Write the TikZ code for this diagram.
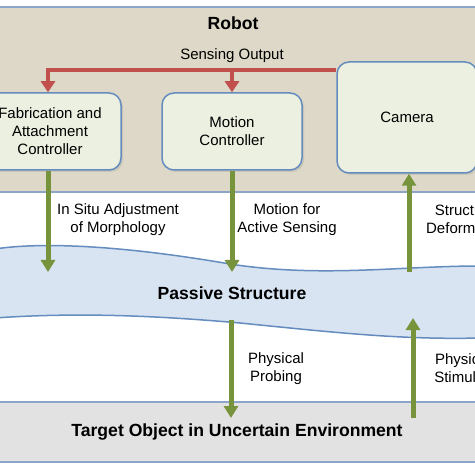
\documentclass[tikz,border=0pt]{standalone}
\usepackage{fontspec}
\setmainfont{Liberation Sans}
\usetikzlibrary{arrows.meta,shadows}
\definecolor{robotfill}{RGB}{221,216,199}
\definecolor{panelline}{RGB}{140,165,200}
\definecolor{boxfill}{RGB}{236,240,224}
\definecolor{boxline}{RGB}{100,140,190}
\definecolor{sensered}{RGB}{192,80,77}
\definecolor{actgreen}{RGB}{119,147,60}
\definecolor{passfill}{RGB}{216,228,242}
\definecolor{targetfill}{RGB}{226,226,226}
\begin{document}
\begin{tikzpicture}[x=0.5pt,y=-0.5pt]
\newcommand{\labelsize}{\fontsize{7.5}{9}\selectfont}
\newcommand{\titlesize}{\fontsize{8.8}{10}\selectfont\bfseries}
\tikzset{block/.style={draw=boxline, line width=0.75pt, fill=boxfill, rounded corners=6pt, align=center, font=\labelsize, inner sep=0pt, drop shadow={opacity=0.2, shadow xshift=1pt, shadow yshift=-1pt}},
  sensearrow/.style={draw=sensered, line width=2pt, -{Triangle[width=7pt,length=5.5pt]}},
  actarrow/.style={draw=actgreen, line width=2.5pt, -{Triangle[width=7pt,length=6pt]}},
  lbl/.style={align=center, font=\labelsize, inner sep=0pt},
  title/.style={font=\titlesize, inner sep=0pt}}
\useasboundingbox (0,0) rectangle (474,474);

    % robot panel
    \draw[draw=panelline, line width=0.75pt, fill=robotfill] (-5,7) rectangle (480,192);
    \node[title] (robot) at (233,23) {Robot};
    \node[lbl] (senselbl) at (232,56) {Sensing Output};

    \node[block, minimum width=71pt, minimum height=38.5pt] (fab) at (50,131.5) {Fabrication and\\Attachment\\Controller};
    \node[block, minimum width=70pt, minimum height=38.5pt] (motion) at (232,131.5) {Motion\\Controller};
    \node[block, minimum width=70pt, minimum height=55.5pt] (camera) at (407,117.5) {Camera};

    % passive structure
    \draw[draw=boxline, line width=0.75pt, fill=passfill] (-5,249) .. controls (40,242) and (120,245) .. (230,264) .. controls (320,278) and (400,266) .. (480,266)
      -- (480,338) .. controls (400,340) and (330,332) .. (240,323) .. controls (160,316) and (80,312) .. (-5,318) -- cycle;
    \node[title] (passive) at (232,293) {Passive Structure};

    % target
    \node[draw=panelline, line width=0.75pt, fill=targetfill, minimum width=245pt, minimum height=30pt, inner sep=0pt, font=\titlesize] (target) at (237,432) {Target Object in Uncertain Environment};

    % sensing output
    \coordinate (split) at (48,70);
    \draw[sensearrow] (camera.west |- split) -| (fab.north -| split);
    \draw[sensearrow] (motion.north |- split) -- (motion.north);

    % actuation and sensing
    \coordinate (adjusttip) at (48,272);
    \coordinate (motiontip) at (232,272);
    \coordinate (deformbase) at (409,272);
    \coordinate (probebase) at (231,320);
    \coordinate (probetip) at (231,418);
    \coordinate (stimbase) at (413,418);
    \coordinate (stimtip) at (413,318);
    \draw[actarrow] (fab.south -| adjusttip) -- (adjusttip);
    \draw[actarrow] (motion.south) -- (motiontip);
    \draw[actarrow] (deformbase) -- (camera.south -| deformbase);
    \draw[actarrow] (probebase) -- (probetip);
    \draw[actarrow] (stimbase) -- (stimtip);

    \node[lbl] (adjustlbl) at (118,219.5) {In Situ Adjustment\\of Morphology};
    \node[lbl] (activelbl) at (287,219.5) {Motion for\\Active Sensing};
    \node[lbl] (deformlbl) at (467,219.5) {Structural\\Deformation};
    \node[lbl] (probelbl) at (276,368.5) {Physical\\Probing};
    \node[lbl] (stimlbl) at (463,368.5) {Physical\\Stimulus};
\end{tikzpicture}
\end{document}
